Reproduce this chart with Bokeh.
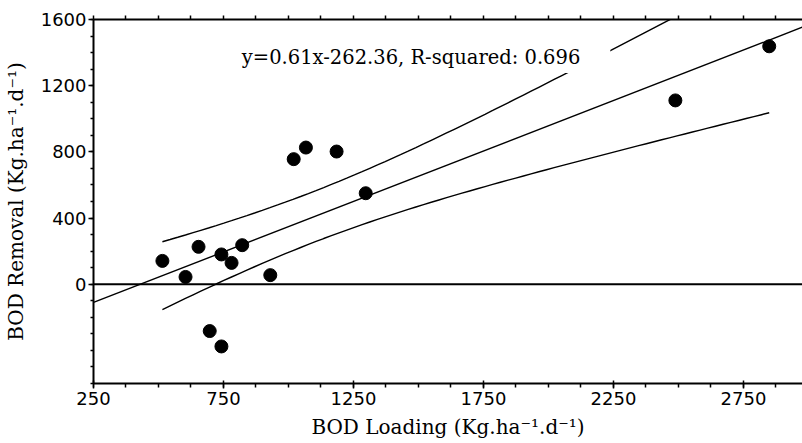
import numpy as np
from bokeh.plotting import figure
from bokeh.models import Range1d, LinearAxis, FixedTicker, Span, Label
from bokeh.embed import file_html
from bokeh.resources import INLINE

# ---- data ----
bod_loading = [515, 604, 654, 742, 781, 822, 930, 697, 742, 1020, 1067, 1185, 1297, 2488, 2849]
bod_removal = [141, 44, 226, 180, 129, 236, 55, -283, -376, 756, 826, 802, 550, 1111, 1438]
slope = 0.61
intercept = -262.36
t_crit = 2.05
x_ticks = [250, 750, 1250, 1750, 2250, 2750]
y_ticks = [0, 400, 800, 1200, 1600]
eq_text = "y=0.61x-262.36, R-squared: 0.696"
x_title = "BOD Loading (Kg.ha\u207b\u00b9.d\u207b\u00b9)"
y_title = "BOD Removal (Kg.ha\u207b\u00b9.d\u207b\u00b9)"

X0, X1 = 250, 2977
Y0, Y1 = -600, 1600

p = figure(width=802, height=443, x_range=Range1d(X0, X1), y_range=Range1d(Y0, Y1),
           output_backend="svg", toolbar_location=None,
           min_border_left=93, min_border_right=0, min_border_top=19, min_border_bottom=60)
p.grid.visible = False
p.outline_line_color = None
p.background_fill_color = "white"
p.border_fill_color = "white"

tick_font = "DejaVu Sans"
title_font = "DejaVu Serif"

# bottom axis
xa = p.xaxis[0]
xa.ticker = FixedTicker(ticks=x_ticks, minor_ticks=list(range(250, 3001, 125)))
xa.axis_label = x_title
xa.axis_label_text_font = title_font
xa.axis_label_text_font_size = "20px"
xa.axis_label_text_font_style = "normal"
xa.axis_label_text_color = "black"
xa.axis_label_standoff = 7
xa.major_label_text_font = tick_font
xa.major_label_text_font_size = "18px"
xa.major_label_text_color = "black"
xa.major_label_standoff = 3
xa.axis_line_width = 2
xa.axis_line_color = "black"
xa.major_tick_out = 5
xa.major_tick_in = 3
xa.minor_tick_out = 4
xa.minor_tick_in = 0
xa.major_tick_line_width = 1.5
xa.minor_tick_line_width = 1.5

# left axis
ya = p.yaxis[0]
ya.ticker = FixedTicker(ticks=y_ticks, minor_ticks=list(range(-600, 1601, 100)))
ya.axis_label = y_title
ya.axis_label_text_font = title_font
ya.axis_label_text_font_size = "20px"
ya.axis_label_text_font_style = "normal"
ya.axis_label_text_color = "black"
ya.axis_label_standoff = 10
ya.major_label_text_font = tick_font
ya.major_label_text_font_size = "18px"
ya.major_label_text_color = "black"
ya.major_label_standoff = 2
ya.major_label_orientation = "horizontal"
ya.axis_line_width = 2
ya.axis_line_color = "black"
ya.major_tick_out = 5
ya.major_tick_in = 0
ya.minor_tick_out = 3
ya.minor_tick_in = 0
ya.major_tick_line_width = 1.5
ya.minor_tick_line_width = 1.5

# top axis (ticks only, no labels)
top = LinearAxis(ticker=FixedTicker(ticks=[], minor_ticks=list(range(250, 3001, 125))))
top.axis_line_width = 2
top.axis_line_color = "black"
top.major_tick_out = 0
top.major_tick_in = 0
top.minor_tick_out = 4
top.minor_tick_in = 0
top.minor_tick_line_width = 1.5
p.add_layout(top, "above")

# zero line
p.add_layout(Span(location=0, dimension="width", line_color="black", line_width=2))

# regression line across the whole axis
xl = np.array([X0, X1], dtype=float)
p.line(xl, slope * xl + intercept, line_color="black", line_width=1.4)

# 95% confidence band of the mean
x = np.array(bod_loading, dtype=float)
y = np.array(bod_removal, dtype=float)
n = len(x)
xbar = x.mean()
sxx = ((x - xbar) ** 2).sum()
resid = y - (slope * x + intercept)
s = np.sqrt((resid ** 2).sum() / (n - 2))
xb = np.linspace(x.min(), x.max(), 80)
hw = t_crit * s * np.sqrt(1.0 / n + (xb - xbar) ** 2 / sxx)
yc = slope * xb + intercept
p.line(xb, yc + hw, line_color="black", line_width=1.4)
p.line(xb, yc - hw, line_color="black", line_width=1.4)

# points
p.scatter(bod_loading, bod_removal, size=13, marker="circle",
          fill_color="black", line_color="black")

# equation label
p.add_layout(Label(x=805, y=1370, text=eq_text, text_font=title_font,
                   text_font_size="19.5px", text_baseline="middle", text_align="left",
                   text_color="black",
                   background_fill_color="white", padding=(4, 30, 4, 4)))

open("out.html", "w").write(file_html(p, INLINE))
